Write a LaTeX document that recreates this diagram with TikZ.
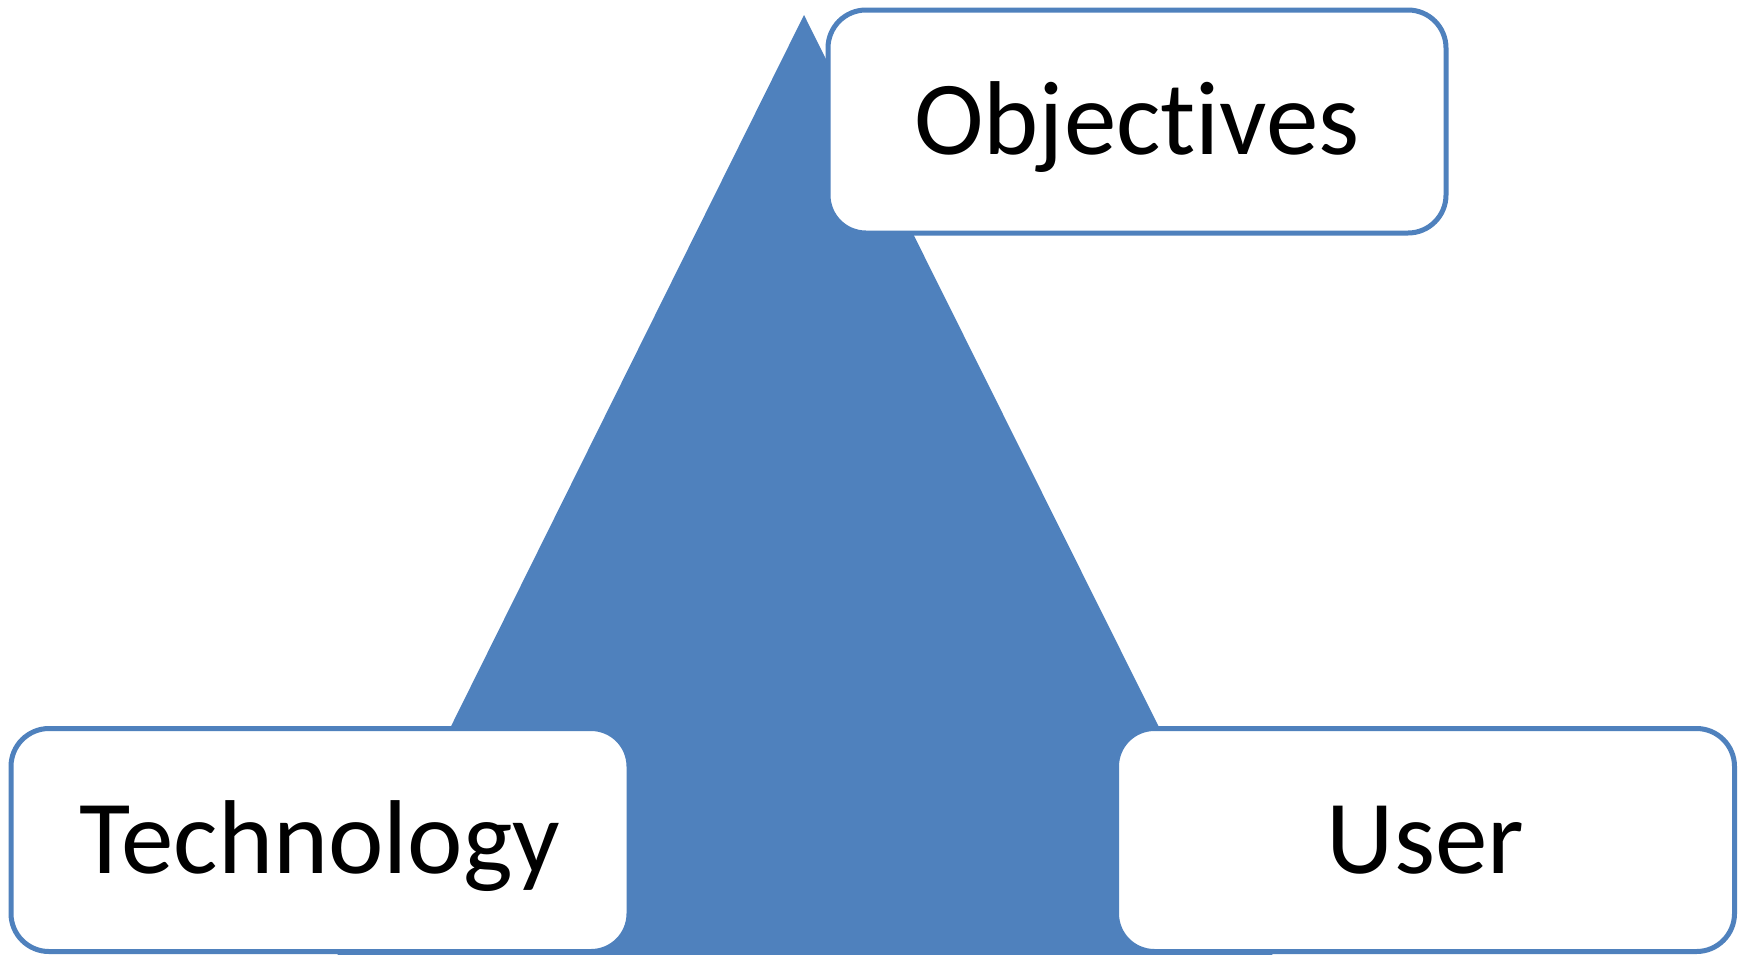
\documentclass[tikz,border=0pt]{standalone}
\usepackage{fontspec}
\setmainfont[Ligatures=CommonOff]{Carlito}
\definecolor{officeblue}{HTML}{4F81BD}
\begin{document}
\begin{tikzpicture}[x=1pt,y=-1pt,
  box/.style={draw=officeblue, line width=5pt, fill=white, rounded corners=38pt,
    minimum width=618pt, minimum height=223pt, inner sep=0pt,
    font=\fontsize{105pt}{110pt}\selectfont, text height=66pt, text depth=0pt}]
\useasboundingbox (0,0) rectangle (1740,954);
\fill[white] (0,0) rectangle (1740,954);
\begin{scope}
\clip (0,0) rectangle (1740,954);
\coordinate (apex) at (804,15);
\coordinate (bl) at (335,960);
\coordinate (br) at (1275,960);
\fill[officeblue] (apex) -- (bl) -- (br) -- cycle;
\end{scope}
\node[box] (obj) at (1137,121.5) {Objectives};
\node[box] (tech) at (320,840) {Technology};
\node[box] (user) at (1425.5,840) {User};
\end{tikzpicture}
\end{document}
